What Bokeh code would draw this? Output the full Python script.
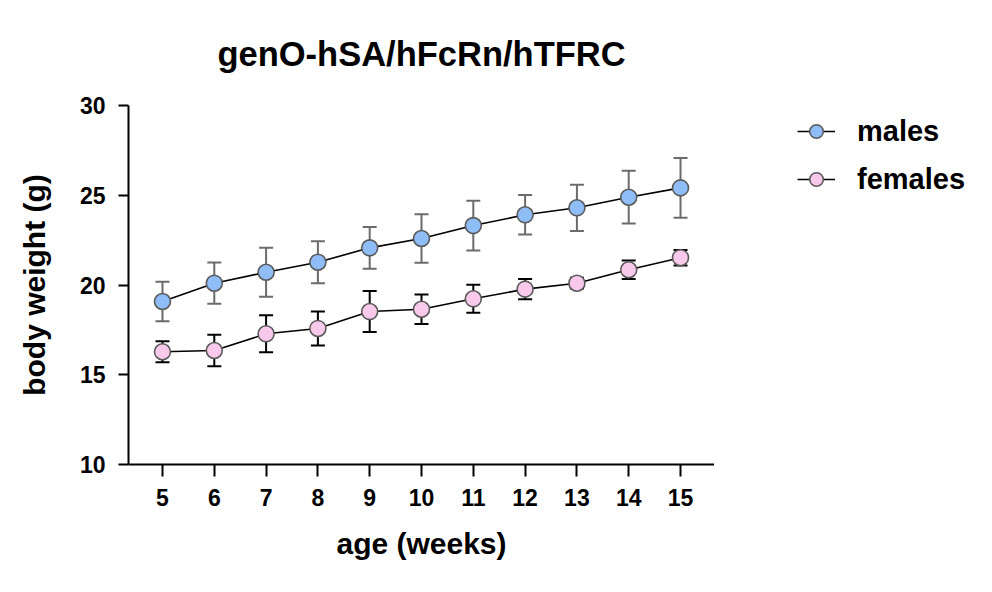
from bokeh.plotting import figure
from bokeh.layouts import row
from bokeh.models import Legend, LegendItem, FixedTicker
from bokeh.embed import file_html
from bokeh.resources import INLINE

weeks = [5, 6, 7, 8, 9, 10, 11, 12, 13, 14, 15]
males_mean = [19.08, 20.10, 20.71, 21.27, 22.07, 22.59, 23.31, 23.91, 24.30, 24.89, 25.41]
males_sd = [1.10, 1.15, 1.37, 1.17, 1.16, 1.35, 1.39, 1.10, 1.29, 1.47, 1.66]
females_mean = [16.28, 16.35, 17.28, 17.58, 18.52, 18.65, 19.23, 19.77, 20.10, 20.85, 21.52]
females_sd = [0.58, 0.88, 1.03, 0.95, 1.14, 0.82, 0.78, 0.56, 0.30, 0.51, 0.43]
y_ticks = [10, 15, 20, 25, 30]
series_names = ["males", "females"]
fills = ["#8fbdf7", "#f9c9ec"]
err_colors = ["#6b6b6b", "#000000"]

FONT = "Liberation Sans"

p = figure(frame_width=586, frame_height=359, x_range=(4.344, 15.656), y_range=(10, 30),
           output_backend="svg", toolbar_location=None,
           min_border_left=128, min_border_right=0, min_border_top=105, min_border_bottom=112)
p.outline_line_color = None
p.grid.visible = False
p.background_fill_color = "white"
p.border_fill_color = "white"

p.title.text = "genO-hSA/hFcRn/hTFRC"
p.title.align = "center"
p.title.vertical_align = "top"
p.title.text_font = FONT
p.title.text_font_size = "34.5px"
p.title.text_font_style = "bold"
p.title.text_color = "black"
p.title.standoff = 62

for ax in (p.xaxis[0], p.yaxis[0]):
    ax.axis_line_width = 2
    ax.axis_line_color = "black"
    ax.major_tick_line_width = 2
    ax.major_tick_line_color = "black"
    ax.major_tick_in = 0
    ax.minor_tick_line_color = None
    ax.major_label_text_font = FONT
    ax.major_label_text_font_style = "bold"
    ax.major_label_text_font_size = "23px"
    ax.major_label_text_color = "black"
    ax.axis_label_text_font = FONT
    ax.axis_label_text_font_style = "bold"
    ax.axis_label_text_font_size = "30px"
    ax.axis_label_text_color = "black"

p.xaxis.ticker = FixedTicker(ticks=weeks)
p.yaxis.ticker = FixedTicker(ticks=y_ticks)
p.xaxis.major_tick_out = 12
p.yaxis.major_tick_out = 10
p.xaxis.major_label_standoff = 12
p.yaxis.major_label_standoff = 13
p.xaxis.axis_label = "age (weeks)"
p.yaxis.axis_label = "body weight (g)"
p.xaxis.axis_label_standoff = 18
p.yaxis.axis_label_standoff = 26

means = [males_mean, females_mean]
sds = [males_sd, females_sd]

for mean, sd, ecol in zip(means, sds, err_colors):
    upper = [m + s for m, s in zip(mean, sd)]
    lower = [m - s for m, s in zip(mean, sd)]
    p.segment(x0=weeks, y0=lower, x1=weeks, y1=upper, line_color=ecol, line_width=2)
    p.scatter(x=weeks, y=upper, marker="dash", size=14, line_color=ecol, line_width=2)
    p.scatter(x=weeks, y=lower, marker="dash", size=14, line_color=ecol, line_width=2)

for mean, fill in zip(means, fills):
    p.line(x=weeks, y=mean, line_color="black", line_width=1.6)
    p.scatter(x=weeks, y=mean, size=16, fill_color=fill, line_color="#5a5a5a", line_width=1.6)

# legend panel to the right of the plot (its frame is aligned with the plot frame);
# its proxy renderers hold the same data, which lies outside this panel's ranges
lg = figure(width=262, height=576, x_range=(0, 1), y_range=(0, 1),
            x_axis_type=None, y_axis_type=None, output_backend="svg",
            toolbar_location=None, min_border=0)
lg.outline_line_color = None
lg.grid.visible = False
lg.background_fill_color = "white"
lg.border_fill_color = "white"

items = []
for name, mean, fill in zip(series_names, means, fills):
    ln = lg.line(x=weeks, y=mean, line_color="black", line_width=1.6)
    sc = lg.scatter(x=weeks, y=mean, size=16, fill_color=fill, line_color="#5a5a5a", line_width=1.6)
    items.append(LegendItem(label=name, renderers=[ln, sc]))

legend = Legend(items=items, location=(83, 268))
legend.padding = 0
legend.margin = 0
legend.border_line_color = None
legend.background_fill_alpha = 0
legend.glyph_width = 38
legend.glyph_height = 34
legend.label_height = 34
legend.spacing = 14
legend.label_standoff = 22
legend.label_text_font = FONT
legend.label_text_font_style = "bold"
legend.label_text_font_size = "29px"
legend.label_text_color = "black"
lg.add_layout(legend, "center")

layout = row(p, lg, spacing=0)
open("out.html", "w").write(file_html(layout, INLINE))
